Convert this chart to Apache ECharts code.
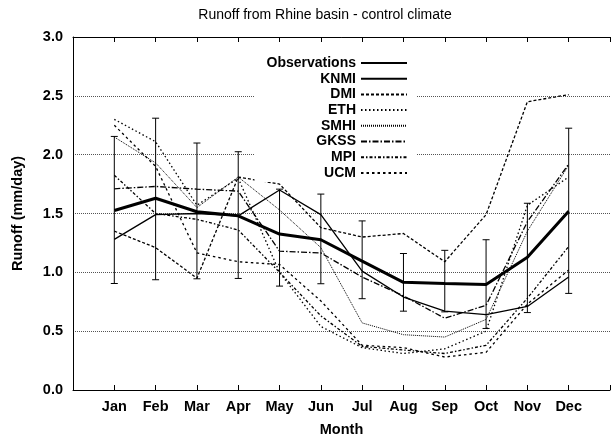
<!DOCTYPE html>
<html>
<head>
<meta charset="utf-8">
<script src="https://cdn.jsdelivr.net/npm/echarts@6/dist/echarts.min.js"></script>
<style>
html,body{margin:0;padding:0;background:#fff;}
#chart{width:613px;height:442px;}
</style>
</head>
<body>
<div id="chart"></div>
<script>
var months = ['Jan','Feb','Mar','Apr','May','Jun','Jul','Aug','Sep','Oct','Nov','Dec'];
var yTicks = ['0.0','0.5','1.0','1.5','2.0','2.5','3.0'];
var obs     = [1.525, 1.63, 1.515, 1.48, 1.325, 1.277, 1.095, 0.915, 0.905, 0.897, 1.128, 1.52];
var obsLow  = [0.905, 0.937, 0.945, 0.948, 0.883, 0.903, 0.776, 0.670, 0.664, 0.523, 0.658, 0.821];
var obsHigh = [2.155, 2.310, 2.099, 2.025, 1.707, 1.665, 1.437, 1.160, 1.187, 1.277, 1.587, 2.225];
var knmi = [1.28, 1.49, 1.50, 1.48, 1.70, 1.49, 1.01, 0.79, 0.67, 0.64, 0.71, 0.96];
var dmi  = [1.35, 1.21, 0.95, 1.81, 1.75, 1.38, 1.30, 1.33, 1.09, 1.49, 2.45, 2.51];
var eth  = [2.30, 2.11, 1.57, 1.80, 1.00, 0.54, 0.36, 0.31, 0.35, 0.50, 1.57, 1.81];
var smhi = [2.15, 1.93, 1.55, 1.81, 1.53, 1.21, 0.57, 0.47, 0.45, 0.60, 1.35, 1.91];
var gkss = [1.71, 1.73, 1.707, 1.69, 1.18, 1.165, 0.96, 0.80, 0.61, 0.72, 1.43, 1.92];
var mpi  = [1.825, 1.50, 1.45, 1.36, 1.00, 0.63, 0.37, 0.34, 0.31, 0.38, 0.78, 1.22];
var ucm  = [2.25, 1.90, 1.165, 1.09, 1.066, 0.757, 0.38, 0.36, 0.28, 0.32, 0.73, 1.02];

var FONT = 'Liberation Sans';
function pairs(arr){ return arr.map(function(v,i){ return [i+1, v]; }); }
function lineSeries(name, arr, width, type){
  return {
    name: name, type: 'line', data: pairs(arr), symbol: 'none', silent: true,
    lineStyle: {color: '#000', width: width, type: type},
    itemStyle: {color: '#000'},
    emphasis: {disabled: true}, z: 3
  };
}
var errData = months.map(function(m,i){ return [i+1, obsLow[i], obsHigh[i]]; });

var chart = echarts.init(document.getElementById('chart'), null, {renderer: 'canvas'});
var xLabel = function(v){ return (v >= 1 && v <= 12) ? months[v-1] : ''; };
chart.setOption({
  animation: false,
  backgroundColor: '#fff',
  graphic: [{
    type: 'text', x: 325, y: 15,
    style: {text: 'Runoff from Rhine basin - control climate', fill: '#000',
      font: '14px "' + FONT + '"', textAlign: 'center', textVerticalAlign: 'middle'}
  }],
  grid: {left: 73, top: 37, width: 542, height: 356},
  xAxis: [{
    type: 'value', min: 0, max: 13, interval: 1, position: 'bottom',
    name: 'Month', nameLocation: 'middle', nameGap: 32,
    nameTextStyle: {color: '#000', fontSize: 14.5, fontWeight: 'bold', fontFamily: FONT},
    axisLine: {show: true, lineStyle: {color: '#000', width: 1}},
    axisTick: {show: true, inside: true, length: 5, lineStyle: {color: '#000'}},
    axisLabel: {formatter: xLabel, color: '#000', fontSize: 14.5, fontWeight: 'bold', fontFamily: FONT, margin: 9},
    splitLine: {show: false}
  }, {
    type: 'value', min: 0, max: 13, interval: 1, position: 'top',
    axisLine: {show: true, lineStyle: {color: '#000', width: 1}},
    axisTick: {show: true, inside: true, length: 5, lineStyle: {color: '#000'}},
    axisLabel: {show: false}, splitLine: {show: false}
  }],
  yAxis: {
    type: 'value', min: 0, max: 3, interval: 0.5,
    name: 'Runoff (mm/day)', nameLocation: 'middle', nameGap: 48,
    nameTextStyle: {color: '#000', fontSize: 14.5, fontWeight: 'bold', fontFamily: FONT},
    axisLine: {show: true, lineStyle: {color: '#000', width: 1}},
    axisTick: {show: false},
    axisLabel: {formatter: function(v){ return yTicks[Math.round(v*2)]; }, color: '#000', fontSize: 14.5, fontWeight: 'bold', fontFamily: FONT, margin: 10},
    splitLine: {show: true, lineStyle: {color: '#555', width: 1, type: [1, 1]}}
  },
  legend: {
    orient: 'vertical', align: 'right', right: 196, top: 54,
    padding: [2, 9, 2, 12], backgroundColor: '#fff',
    itemWidth: 46, itemHeight: 14, itemGap: 1.7,
    itemStyle: {opacity: 0},
    textStyle: {color: '#000', fontSize: 14, fontWeight: 'bold', fontFamily: FONT, lineHeight: 14},
    data: ['Observations','KNMI','DMI','ETH','SMHI','GKSS','MPI','UCM'],
    selectedMode: false, z: 10
  },
  series: [
    {
      type: 'custom', name: 'errorbars', data: errData, silent: true, z: 2,
      renderItem: function(params, api){
        var lo = api.coord([api.value(0), api.value(1)]);
        var hi = api.coord([api.value(0), api.value(2)]);
        var h = 3.5;
        var st = {stroke: '#000', lineWidth: 1};
        return {type: 'group', children: [
          {type: 'line', shape: {x1: lo[0], y1: lo[1], x2: hi[0], y2: hi[1]}, style: st},
          {type: 'line', shape: {x1: lo[0]-h, y1: lo[1], x2: lo[0]+h, y2: lo[1]}, style: st},
          {type: 'line', shape: {x1: hi[0]-h, y1: hi[1], x2: hi[0]+h, y2: hi[1]}, style: st}
        ]};
      }
    },
    lineSeries('Observations', obs, 3, 'solid'),
    lineSeries('KNMI', knmi, 1.3, 'solid'),
    lineSeries('DMI', dmi, 1.3, [3, 2]),
    lineSeries('ETH', eth, 1.3, [1.5, 2.5]),
    lineSeries('SMHI', smhi, 1, [1, 1]),
    lineSeries('GKSS', gkss, 1.3, [6, 2, 1.5, 2]),
    lineSeries('MPI', mpi, 1.3, [3, 2, 1.5, 2]),
    lineSeries('UCM', ucm, 1.3, [2.5, 3])
  ]
});
</script>
</body>
</html>
